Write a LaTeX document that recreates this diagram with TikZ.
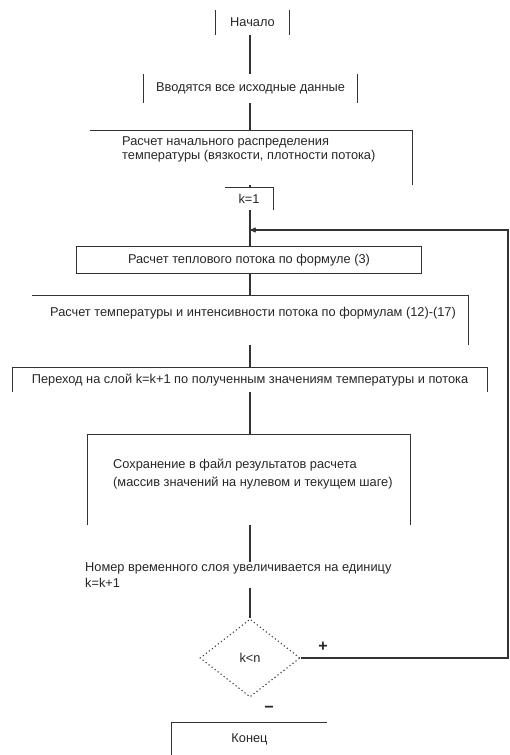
\documentclass[tikz,border=0pt]{standalone}
\usepackage{fontspec}
\setmainfont{Liberation Sans}
\usetikzlibrary{arrows, shapes.geometric}

\begin{document}
\begin{tikzpicture}[x=1pt,y=-1pt,>=stealth',
                    every node/.style={font=\fontsize{12.8}{14.5}\selectfont, text=black!85}]
  \tikzstyle{box}=[rectangle, inner sep=0pt]
  \tikzstyle{edge}=[draw=black!80, line width=1.1pt]
  \tikzstyle{txt}=[inner sep=0pt, align=left, anchor=north west]
  \tikzstyle{sign}=[font=\fontsize{16}{16}\bfseries, inner sep=0pt]
  \tikzstyle{cond}=[diamond, draw=black!75, dash pattern=on 1.2pt off 2.6pt, line width=1.1pt,
                    inner sep=0pt, minimum width=100pt, minimum height=78pt, aspect=1.28]

  \useasboundingbox (0,0) rectangle (510,755);
  \coordinate (axis) at (250,0);
  \coordinate (join) at (250,230);
  \coordinate (ret) at (508,658);

  \node[box, minimum width=73pt, minimum height=25pt]   (start) at (252.5,22.5) {Начало};
  \node[box, minimum width=213pt, minimum height=29pt]  (input) at (250.5,88.5) {Вводятся все исходные данные};
  \node[box, minimum width=322pt, minimum height=54pt]  (init)  at (251,158) {};
  \node[txt] (initt) at (122,136) {Расчет начального распределения\\ температуры (вязкости, плотности потока)};
  \node[box, minimum width=48pt, minimum height=22pt]   (kone)  at (249,199) {k=1};
  \node[box, minimum width=344pt, minimum height=26pt]  (flux)  at (249,260) {Расчет теплового потока по формуле (3)};
  \node[box, minimum width=436pt, minimum height=49pt]  (temp)  at (250,320.5) {};
  \node[inner sep=0pt] (tempt) at (253,313) {Расчет температуры и интенсивности потока по формулам (12)-(17)};
  \node[box, minimum width=474pt, minimum height=24pt]  (next)  at (250,380) {Переход на слой k=k+1 по полученным значениям температуры и потока};
  \node[box, minimum width=322pt, minimum height=90pt]  (save)  at (249,480) {};
  \node[txt] (savet) at (113,459) {Сохранение в файл результатов расчета\\[3pt] (массив значений на нулевом и текущем шаге)};
  \node[txt] (layer) at (85,562) {Номер временного слоя увеличивается на единицу\\[2pt] k=k+1};
  \node[cond] (check) at (250,658) {k<n};
  \node[sign] (plus) at (323,647) {+};
  \node[sign] (minus) at (269,709) {−};
  \node[box, minimum width=155pt, minimum height=32pt]  (stop)  at (249.5,739) {Конец};

  \draw[edge] (start.north west) -- (start.south west) (start.north east) -- (start.south east);
  \draw[edge] (input.north west) -- (input.south west) (input.north east) -- (input.south east);
  \draw[edge] (init.north west) -- (init.north east) -- (init.south east);
  \draw[edge] (kone.north west) -- (kone.north east) -- (kone.south east);
  \draw[edge] (flux.north west) rectangle (flux.south east);
  \draw[edge] (temp.north west) -- (temp.north east) -- (temp.south east);
  \draw[edge] (next.south west) -- (next.north west) -- (next.north east) -- (next.south east);
  \draw[edge] (save.south west) -- (save.north west) -- (save.north east) -- (save.south east);
  \draw[edge] (stop.south west) -- (stop.north west) -- (stop.north east);

  \draw[edge] (start.south -| axis) -- (input.north -| axis);
  \draw[edge] (input.south -| axis) -- (init.north -| axis);
  \draw[edge] (init.south -| axis) -- (kone.north -| axis);
  \draw[edge] (kone.south -| axis) -- (flux.north -| axis);
  \draw[edge] (flux.south -| axis) -- (temp.north -| axis);
  \draw[edge] (temp.south -| axis) -- (next.north -| axis);
  \draw[edge] (next.south -| axis) -- (save.north -| axis);
  \draw[edge] (save.south -| axis) -- (layer.north -| axis);
  \draw[edge] (layer.south -| axis) -- (check.north);
  \draw[edge,->] (check.east) -- (ret) |- (join);
\end{tikzpicture}
\end{document}
